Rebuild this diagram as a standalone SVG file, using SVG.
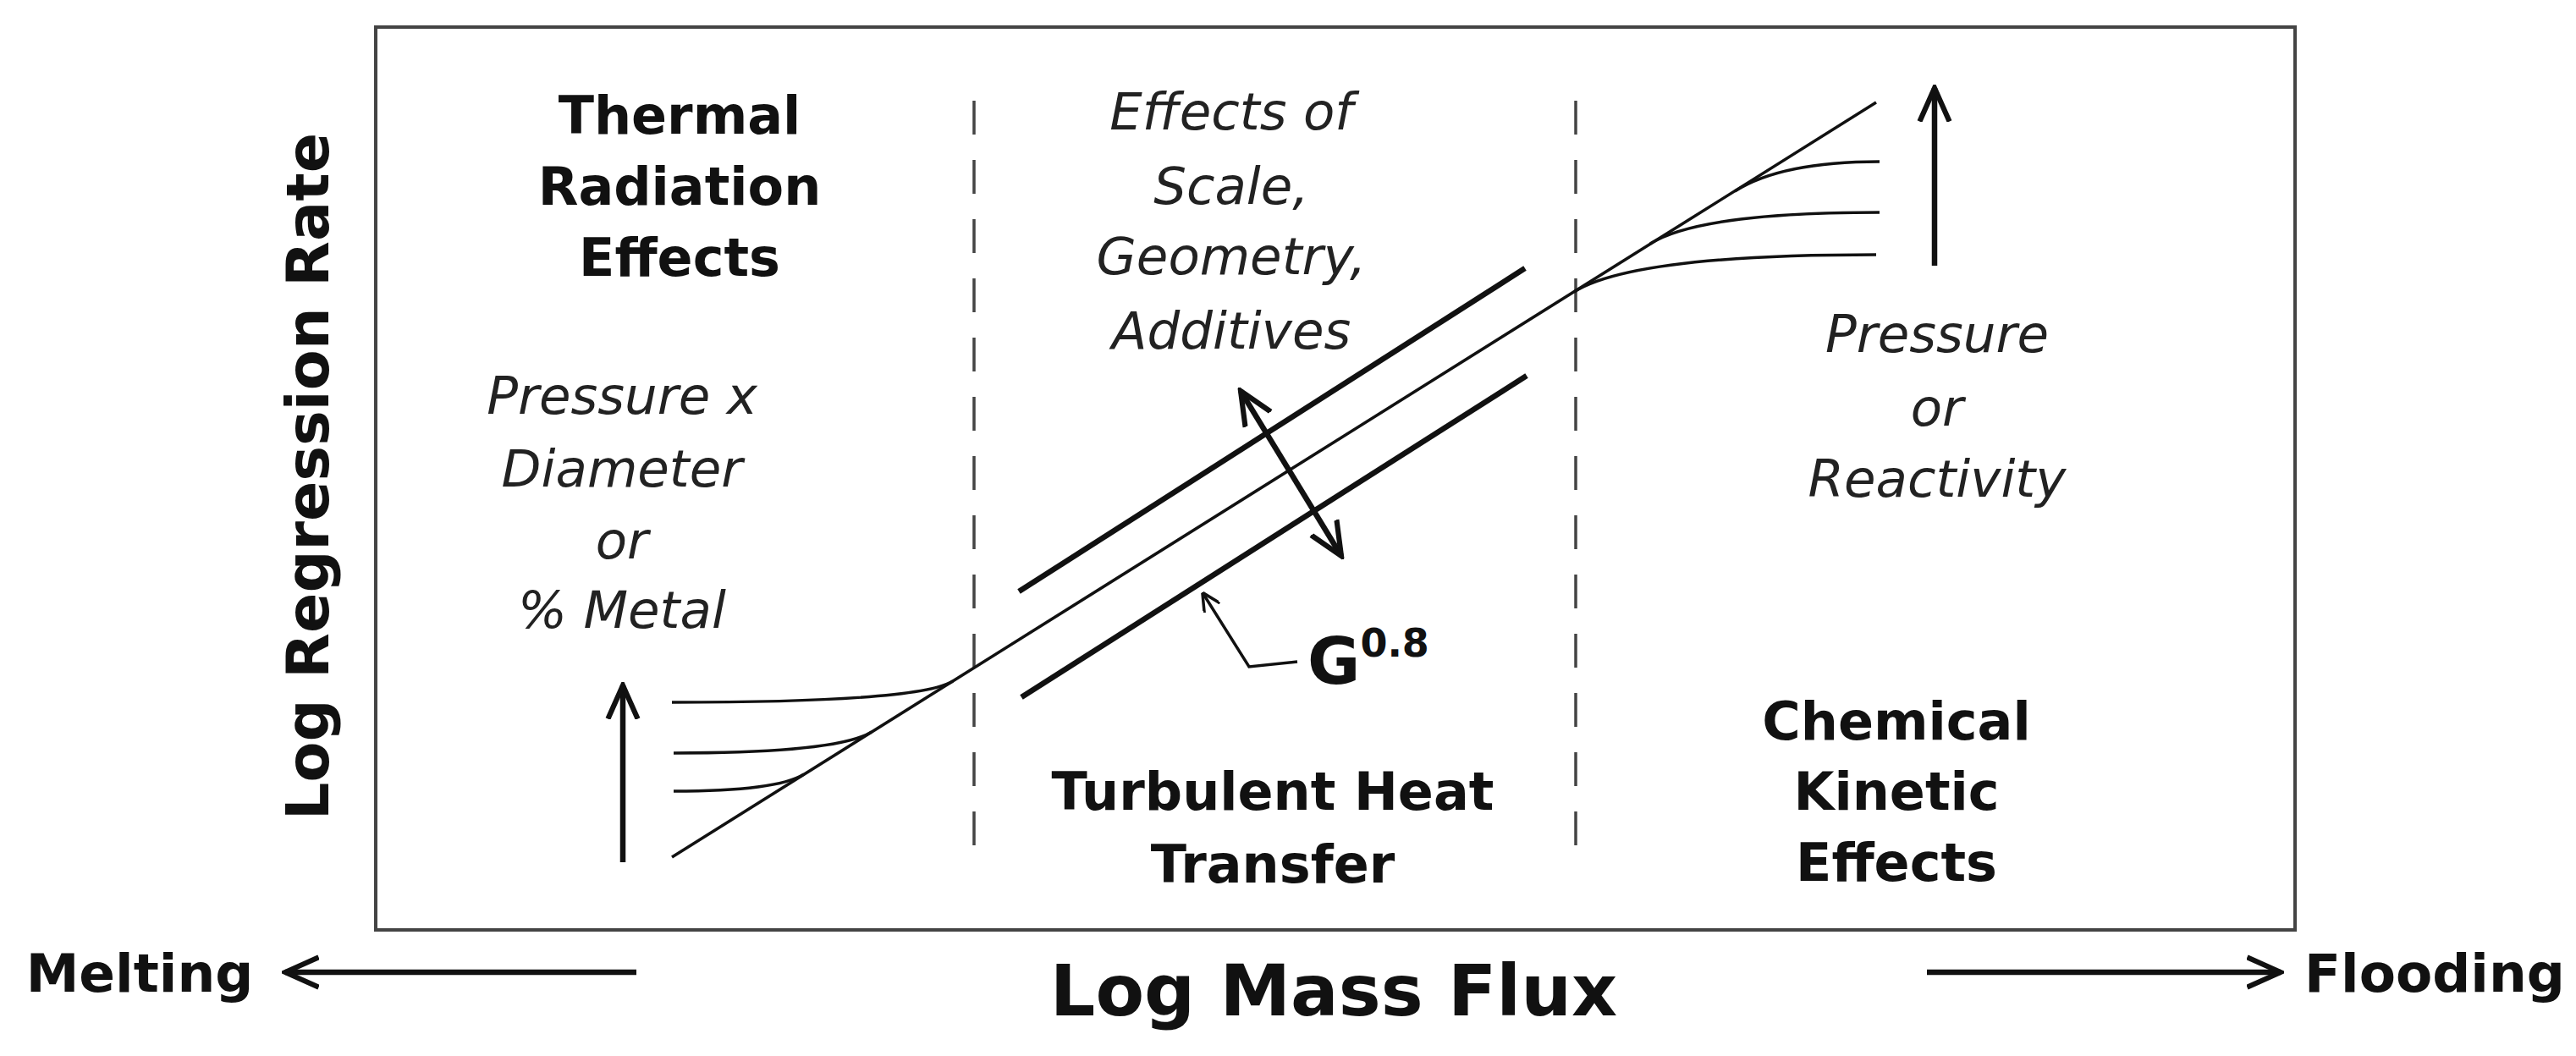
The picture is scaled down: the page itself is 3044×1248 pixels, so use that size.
<svg xmlns="http://www.w3.org/2000/svg" width="3044" height="1248" viewBox="0 0 3044 1248">
<style>
.b{font-family:"DejaVu Sans",Verdana,sans-serif;font-weight:bold;fill:#111;text-anchor:middle}
.i{font-family:"DejaVu Sans",Verdana,sans-serif;font-style:italic;fill:#222;text-anchor:middle;font-size:61px}
.thin{fill:none;stroke:#111;stroke-width:3.5}
.thick{fill:none;stroke:#111;stroke-width:6.5}
</style>
<defs>
<marker id="as" viewBox="0 0 10 10" refX="9" refY="5" markerWidth="22" markerHeight="22" orient="auto-start-reverse" markerUnits="userSpaceOnUse">
<path d="M0,0 L10,5 L0,10" fill="none" stroke="#111" stroke-width="1.6"/>
</marker>
<marker id="al" viewBox="0 0 10 10" refX="9" refY="5" markerWidth="44" markerHeight="44" orient="auto-start-reverse" markerUnits="userSpaceOnUse">
<path d="M0,1 L9,5 L0,9" fill="none" stroke="#111" stroke-width="1.4"/>
</marker>
</defs>
<rect width="3044" height="1248" fill="#fff"/>
<g id="frame"><rect x="444" y="32" width="2268" height="1067" fill="none" stroke="#444" stroke-width="4"/></g>
<g id="dividers" stroke="#444" stroke-width="3.5" stroke-dasharray="40,30">
<line x1="1151" y1="119" x2="1151" y2="1009"/>
<line x1="1862" y1="119" x2="1862" y2="1009"/>
</g>
<g id="connectors">
<line class="thin" x1="794" y1="1013" x2="2217" y2="121"/>
<path class="thin" d="M794,830 Q1086,830 1126,805"/>
<path class="thin" d="M796,890 Q990,890 1030,865"/>
<path class="thin" d="M796,935 Q918,935 950,915"/>
<path class="thin" d="M2050,226 Q2105,191 2221,191"/>
<path class="thin" d="M1950,288 Q2009,251 2221,251"/>
<path class="thin" d="M1860,345 Q1930,301 2217,301"/>
<line class="thick" x1="1204" y1="699" x2="1802" y2="317"/>
<line class="thick" x1="1207" y1="824" x2="1804" y2="444"/>
<line class="thick" x1="1466" y1="462" x2="1585" y2="657" marker-start="url(#al)" marker-end="url(#al)"/>
<polyline class="thin" points="1533,782 1476,788 1422,702" marker-end="url(#as)"/>
<line class="thick" x1="736" y1="1019" x2="736" y2="810" marker-end="url(#al)"/>
<line class="thick" x1="2286" y1="314" x2="2286" y2="104" marker-end="url(#al)"/>
<line class="thick" x1="752" y1="1149" x2="337" y2="1149" marker-end="url(#al)"/>
<line class="thick" x1="2277" y1="1149" x2="2695" y2="1149" marker-end="url(#al)"/>
</g>
<g id="axis-y"><text class="b" font-size="70" transform="translate(388,563) rotate(-90)">Log Regression Rate</text></g>
<g id="axis-x"><text class="b" font-size="84" x="1576" y="1200">Log Mass Flux</text></g>
<g id="melting"><text class="b" font-size="63" x="165" y="1172">Melting</text></g>
<g id="flooding"><text class="b" font-size="63" x="2877" y="1172">Flooding</text></g>
<g id="thermal">
<text class="b" font-size="62" x="803" y="158">Thermal</text>
<text class="b" font-size="62" x="803" y="242">Radiation</text>
<text class="b" font-size="62" x="803" y="326">Effects</text>
</g>
<g id="turbulent">
<text class="b" font-size="62" x="1504" y="957">Turbulent Heat</text>
<text class="b" font-size="62" x="1504" y="1043">Transfer</text>
</g>
<g id="chemical">
<text class="b" font-size="62" x="2241" y="874">Chemical</text>
<text class="b" font-size="62" x="2241" y="957">Kinetic</text>
<text class="b" font-size="62" x="2241" y="1041">Effects</text>
</g>
<g id="scale">
<text class="i" x="1455" y="153">Effects of</text>
<text class="i" x="1455" y="241">Scale,</text>
<text class="i" x="1455" y="324">Geometry,</text>
<text class="i" x="1455" y="412">Additives</text>
</g>
<g id="pressure-left">
<text class="i" x="735" y="489">Pressure x</text>
<text class="i" x="735" y="575">Diameter</text>
<text class="i" x="735" y="660">or</text>
<text class="i" x="735" y="742">% Metal</text>
</g>
<g id="pressure-right">
<text class="i" x="2289" y="416">Pressure</text>
<text class="i" x="2289" y="503">or</text>
<text class="i" x="2289" y="587">Reactivity</text>
</g>
<g id="g08"><text class="b" font-size="76" x="1545" y="808" style="text-anchor:start">G<tspan font-size="46" dy="-32">0.8</tspan></text></g>
</svg>
